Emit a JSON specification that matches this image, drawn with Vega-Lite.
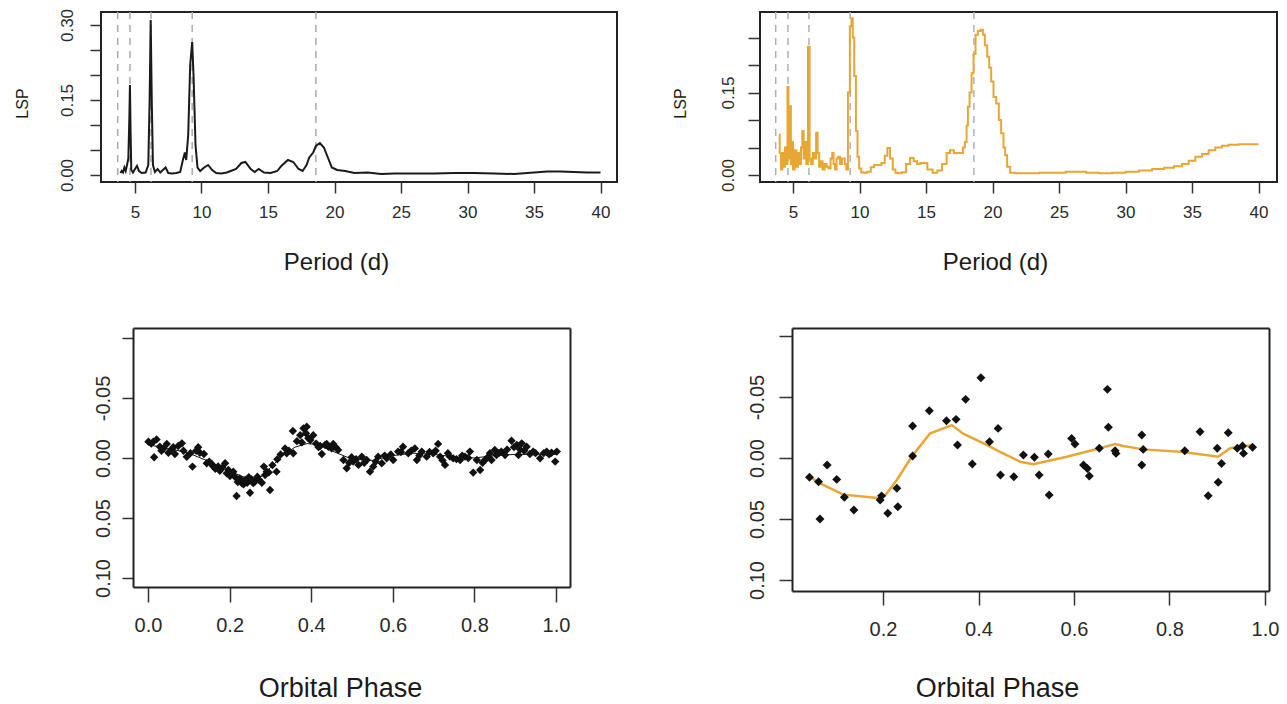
{
  "$schema": "https://vega.github.io/schema/vega-lite/v6.json",
  "background": "white",
  "padding": {"left": 13, "top": 7, "right": 5, "bottom": 5},
  "columns": 2,
  "bounds": "flush",
  "spacing": {"row": 146, "column": 143},
  "config": {
    "axis": {"labelFont": "Liberation Sans", "titleFont": "Liberation Sans", "labelColor": "#2a2a2a", "tickColor": "#333", "tickWidth": 1.5, "grid": false, "labelFlush": false, "labelOverlap": false, "titleFontWeight": "normal", "titleColor": "#1a1a1a", "domainColor": "#222", "domainWidth": 2},
    "view": {"stroke": "#222", "strokeWidth": 2}
  },
  "datasets": {
    "dash": [{"P": 3.7}, {"P": 4.62}, {"P": 6.2}, {"P": 9.3}, {"P": 18.6}],
    "tl": [
      {"P":3.9,"L":0.004},{"P":4.0,"L":0.008},{"P":4.1,"L":0.005},{"P":4.2,"L":0.015},{"P":4.3,"L":0.008},{"P":4.4,"L":0.02},{"P":4.5,"L":0.033},{"P":4.58,"L":0.12},{"P":4.62,"L":0.18},{"P":4.66,"L":0.1},{"P":4.72,"L":0.01},{"P":4.85,"L":0.005},{"P":5.0,"L":0.012},{"P":5.15,"L":0.018},{"P":5.3,"L":0.008},{"P":5.5,"L":0.004},{"P":5.8,"L":0.005},{"P":6.0,"L":0.02},{"P":6.1,"L":0.15},{"P":6.18,"L":0.31},{"P":6.26,"L":0.15},{"P":6.35,"L":0.02},{"P":6.5,"L":0.006},{"P":6.7,"L":0.012},{"P":6.9,"L":0.005},{"P":7.1,"L":0.01},{"P":7.3,"L":0.015},{"P":7.5,"L":0.004},{"P":7.8,"L":0.003},{"P":8.1,"L":0.004},{"P":8.4,"L":0.006},{"P":8.6,"L":0.03},{"P":8.75,"L":0.045},{"P":8.85,"L":0.03},{"P":9.0,"L":0.08},{"P":9.15,"L":0.22},{"P":9.3,"L":0.266},{"P":9.4,"L":0.2},{"P":9.55,"L":0.06},{"P":9.7,"L":0.015},{"P":9.9,"L":0.008},{"P":10.2,"L":0.015},{"P":10.5,"L":0.02},{"P":10.8,"L":0.01},{"P":11.1,"L":0.004},{"P":11.5,"L":0.003},{"P":11.9,"L":0.005},{"P":12.2,"L":0.008},{"P":12.6,"L":0.012},{"P":13.0,"L":0.024},{"P":13.3,"L":0.026},{"P":13.7,"L":0.012},{"P":14.0,"L":0.006},{"P":14.3,"L":0.012},{"P":14.7,"L":0.005},{"P":15.2,"L":0.004},{"P":15.7,"L":0.008},{"P":16.0,"L":0.018},{"P":16.5,"L":0.03},{"P":16.9,"L":0.026},{"P":17.3,"L":0.012},{"P":17.6,"L":0.008},{"P":17.9,"L":0.02},{"P":18.1,"L":0.035},{"P":18.4,"L":0.045},{"P":18.6,"L":0.058},{"P":18.9,"L":0.064},{"P":19.2,"L":0.055},{"P":19.5,"L":0.035},{"P":19.8,"L":0.015},{"P":20.2,"L":0.01},{"P":20.8,"L":0.008},{"P":21.5,"L":0.004},{"P":22.5,"L":0.005},{"P":23.5,"L":0.002},{"P":24.5,"L":0.003},{"P":26,"L":0.003},{"P":27.5,"L":0.003},{"P":29,"L":0.004},{"P":30.5,"L":0.004},{"P":32,"L":0.003},{"P":33.5,"L":0.002},{"P":35,"L":0.005},{"P":36,"L":0.007},{"P":37,"L":0.007},{"P":38,"L":0.006},{"P":39,"L":0.005},{"P":40,"L":0.005}
    ],
    "tr": [
      {"P":3.95,"L":0.073},{"P":4.05,"L":0.04},{"P":4.15,"L":0.01},{"P":4.25,"L":0.04},{"P":4.35,"L":0.015},{"P":4.45,"L":0.05},{"P":4.55,"L":0.02},{"P":4.62,"L":0.16},{"P":4.7,"L":0.03},{"P":4.8,"L":0.125},{"P":4.88,"L":0.02},{"P":4.95,"L":0.06},{"P":5.05,"L":0.01},{"P":5.2,"L":0.045},{"P":5.3,"L":0.015},{"P":5.45,"L":0.04},{"P":5.55,"L":0.02},{"P":5.65,"L":0.05},{"P":5.75,"L":0.08},{"P":5.85,"L":0.03},{"P":5.95,"L":0.06},{"P":6.05,"L":0.02},{"P":6.2,"L":0.233},{"P":6.3,"L":0.03},{"P":6.43,"L":0.02},{"P":6.55,"L":0.04},{"P":6.68,"L":0.03},{"P":6.8,"L":0.077},{"P":6.9,"L":0.04},{"P":7.03,"L":0.015},{"P":7.15,"L":0.025},{"P":7.3,"L":0.01},{"P":7.45,"L":0.02},{"P":7.6,"L":0.015},{"P":7.75,"L":0.012},{"P":7.9,"L":0.03},{"P":8.0,"L":0.04},{"P":8.1,"L":0.02},{"P":8.2,"L":0.01},{"P":8.35,"L":0.03},{"P":8.46,"L":0.033},{"P":8.6,"L":0.02},{"P":8.75,"L":0.03},{"P":8.83,"L":0.03},{"P":8.95,"L":0.02},{"P":9.06,"L":0.01},{"P":9.2,"L":0.15},{"P":9.35,"L":0.27},{"P":9.44,"L":0.285},{"P":9.55,"L":0.25},{"P":9.66,"L":0.18},{"P":9.8,"L":0.08},{"P":9.9,"L":0.033},{"P":10.05,"L":0.012},{"P":10.2,"L":0.005},{"P":10.45,"L":0.004},{"P":10.7,"L":0.006},{"P":11.0,"L":0.014},{"P":11.2,"L":0.018},{"P":11.5,"L":0.018},{"P":11.8,"L":0.022},{"P":12.0,"L":0.035},{"P":12.2,"L":0.049},{"P":12.4,"L":0.03},{"P":12.6,"L":0.01},{"P":12.8,"L":0.004},{"P":13.0,"L":0.003},{"P":13.35,"L":0.005},{"P":13.65,"L":0.02},{"P":13.95,"L":0.031},{"P":14.2,"L":0.025},{"P":14.45,"L":0.02},{"P":14.7,"L":0.022},{"P":14.9,"L":0.022},{"P":15.3,"L":0.01},{"P":15.7,"L":0.004},{"P":16.0,"L":0.008},{"P":16.4,"L":0.02},{"P":16.7,"L":0.04},{"P":16.9,"L":0.045},{"P":17.3,"L":0.04},{"P":17.7,"L":0.04},{"P":17.85,"L":0.05},{"P":18.0,"L":0.06},{"P":18.1,"L":0.09},{"P":18.2,"L":0.124},{"P":18.35,"L":0.15},{"P":18.5,"L":0.185},{"P":18.65,"L":0.22},{"P":18.8,"L":0.255},{"P":19.0,"L":0.262},{"P":19.2,"L":0.264},{"P":19.35,"L":0.255},{"P":19.5,"L":0.236},{"P":19.7,"L":0.215},{"P":19.8,"L":0.195},{"P":20.0,"L":0.17},{"P":20.15,"L":0.142},{"P":20.4,"L":0.13},{"P":20.55,"L":0.1},{"P":20.75,"L":0.076},{"P":20.9,"L":0.05},{"P":21.0,"L":0.036},{"P":21.2,"L":0.015},{"P":21.45,"L":0.004},{"P":22,"L":0.003},{"P":23,"L":0.003},{"P":24,"L":0.004},{"P":25,"L":0.004},{"P":26,"L":0.006},{"P":26.6,"L":0.006},{"P":27.5,"L":0.004},{"P":28.5,"L":0.003},{"P":29.5,"L":0.004},{"P":30.5,"L":0.006},{"P":31.5,"L":0.008},{"P":32.5,"L":0.011},{"P":33.3,"L":0.013},{"P":34.0,"L":0.016},{"P":34.5,"L":0.02},{"P":35.0,"L":0.026},{"P":35.5,"L":0.033},{"P":36.0,"L":0.038},{"P":36.5,"L":0.045},{"P":37.0,"L":0.05},{"P":37.5,"L":0.053},{"P":38.0,"L":0.055},{"P":39,"L":0.056},{"P":40,"L":0.056}
    ],
    "bl": [
      {"p":0.001,"m":-0.0136},{"p":0.013,"m":-0.0136},{"p":0.021,"m":-0.0155},{"p":0.015,"m":-0.0006},{"p":0.029,"m":-0.0094},{"p":0.038,"m":-0.008},{"p":0.046,"m":-0.0117},{"p":0.05,"m":-0.0044},{"p":0.058,"m":-0.0072},{"p":0.066,"m":-0.0033},{"p":0.074,"m":-0.01},{"p":0.083,"m":-0.0122},{"p":0.087,"m":-0.006},{"p":0.095,"m":-0.001},{"p":0.109,"m":0.0072},{"p":0.123,"m":-0.009},{"p":0.127,"m":-0.0044},{"p":0.137,"m":-0.0033},{"p":0.144,"m":0.0044},{"p":0.156,"m":0.005},{"p":0.16,"m":0.007},{"p":0.172,"m":0.007},{"p":0.176,"m":0.0106},{"p":0.189,"m":0.0044},{"p":0.193,"m":0.0128},{"p":0.201,"m":0.015},{"p":0.209,"m":0.0114},{"p":0.217,"m":0.0317},{"p":0.225,"m":0.017},{"p":0.23,"m":0.021},{"p":0.238,"m":0.0183},{"p":0.243,"m":0.0206},{"p":0.25,"m":0.029},{"p":0.254,"m":0.0178},{"p":0.262,"m":0.0197},{"p":0.268,"m":0.0156},{"p":0.279,"m":0.0206},{"p":0.284,"m":0.0072},{"p":0.287,"m":0.0142},{"p":0.291,"m":0.0114},{"p":0.299,"m":0.0267},{"p":0.315,"m":0.0114},{"p":0.317,"m":0.0011},{"p":0.336,"m":-0.008},{"p":0.34,"m":-0.0039},{"p":0.356,"m":-0.0039},{"p":0.355,"m":-0.0225},{"p":0.373,"m":-0.019},{"p":0.381,"m":-0.0247},{"p":0.387,"m":-0.0206},{"p":0.389,"m":-0.026},{"p":0.393,"m":-0.0164},{"p":0.405,"m":-0.019},{"p":0.426,"m":-0.0033},{"p":0.434,"m":-0.0108},{"p":0.442,"m":-0.0094},
      {"p":0.422,"m":-0.01},{"p":0.438,"m":-0.0117},{"p":0.454,"m":-0.0117},{"p":0.466,"m":-0.0067},{"p":0.479,"m":0.0017},{"p":0.487,"m":0.0086},{"p":0.499,"m":-0.0006},{"p":0.503,"m":0.003},{"p":0.516,"m":0.0058},{"p":0.524,"m":-0.0011},{"p":0.536,"m":0.0017},{"p":0.544,"m":0.0114},{"p":0.552,"m":0.0072},{"p":0.564,"m":-0.0011},{"p":0.573,"m":0.0044},{"p":0.585,"m":0.0003},{"p":0.601,"m":0.0017},{"p":0.613,"m":-0.0053},{"p":0.625,"m":-0.0094},{"p":0.638,"m":-0.0039},{"p":0.654,"m":-0.008},{"p":0.659,"m":0.0017},{"p":0.671,"m":-0.0053},{"p":0.683,"m":-0.0011},{"p":0.699,"m":-0.0039},{"p":0.711,"m":-0.0117},{"p":0.716,"m":-0.0011},{"p":0.728,"m":0.0058},{"p":0.74,"m":-0.0011},{"p":0.748,"m":0.0003},{"p":0.765,"m":0.0017},{"p":0.777,"m":-0.0011},{"p":0.789,"m":-0.0053},{"p":0.797,"m":0.0122},{"p":0.806,"m":0.0017},{"p":0.814,"m":0.01},{"p":0.826,"m":0.0017},{"p":0.834,"m":-0.0011},{"p":0.842,"m":0.0017},{"p":0.85,"m":-0.0067},{"p":0.854,"m":-0.0025},{"p":0.866,"m":-0.0053},{"p":0.875,"m":-0.0025},{"p":0.891,"m":-0.0144},{"p":0.904,"m":-0.0108},{"p":0.908,"m":-0.0025},{"p":0.916,"m":-0.0122},{"p":0.928,"m":-0.0094},{"p":0.936,"m":-0.0033},{"p":0.944,"m":-0.0053},{"p":0.961,"m":0.0003},{"p":0.977,"m":-0.0053},{"p":0.989,"m":-0.0044},{"p":0.998,"m":0.003},{"p":1.002,"m":-0.0053},
      {"p":0.008,"m":-0.012},{"p":0.033,"m":-0.006},{"p":0.062,"m":-0.009},{"p":0.104,"m":-0.004},{"p":0.118,"m":-0.006},{"p":0.15,"m":0.003},{"p":0.165,"m":0.009},{"p":0.182,"m":0.008},{"p":0.197,"m":0.01},{"p":0.205,"m":0.013},{"p":0.214,"m":0.016},{"p":0.22,"m":0.02},{"p":0.234,"m":0.022},{"p":0.247,"m":0.016},{"p":0.258,"m":0.021},{"p":0.272,"m":0.018},{"p":0.296,"m":0.012},{"p":0.305,"m":0.006},{"p":0.325,"m":-0.003},{"p":0.345,"m":-0.006},{"p":0.365,"m":-0.014},{"p":0.377,"m":-0.013},{"p":0.398,"m":-0.015},{"p":0.412,"m":-0.012},{"p":0.418,"m":-0.009},{"p":0.45,"m":-0.008},{"p":0.46,"m":-0.009},{"p":0.493,"m":0.004},{"p":0.51,"m":0.001},{"p":0.53,"m":0.004},{"p":0.558,"m":0.003},{"p":0.58,"m":-0.002},{"p":0.595,"m":-0.003},{"p":0.62,"m":-0.005},{"p":0.645,"m":-0.006},{"p":0.665,"m":-0.002},{"p":0.69,"m":-0.005},{"p":0.705,"m":-0.006},{"p":0.722,"m":0.002},{"p":0.735,"m":-0.004},{"p":0.756,"m":0.001},{"p":0.77,"m":-0.002},{"p":0.785,"m":0.0},{"p":0.82,"m":0.004},{"p":0.838,"m":-0.004},{"p":0.86,"m":-0.004},{"p":0.88,"m":-0.007},{"p":0.897,"m":-0.009},{"p":0.912,"m":-0.007},{"p":0.922,"m":-0.006},{"p":0.95,"m":-0.004},{"p":0.97,"m":-0.004},{"p":0.983,"m":-0.003}
    ],
    "blfit": [
      {"p":0.0,"m":-0.011},{"p":0.05,"m":-0.008},{"p":0.1,"m":-0.004},{"p":0.15,"m":0.003},{"p":0.2,"m":0.011},{"p":0.25,"m":0.018},{"p":0.28,"m":0.015},{"p":0.3,"m":0.008},{"p":0.33,"m":-0.002},{"p":0.36,"m":-0.009},{"p":0.39,"m":-0.012},{"p":0.42,"m":-0.011},{"p":0.45,"m":-0.006},{"p":0.5,"m":0.001},{"p":0.55,"m":0.002},{"p":0.6,"m":-0.002},{"p":0.65,"m":-0.004},{"p":0.7,"m":-0.003},{"p":0.75,"m":-0.001},{"p":0.8,"m":0.0},{"p":0.85,"m":-0.002},{"p":0.9,"m":-0.003},{"p":0.95,"m":-0.003},{"p":1.0,"m":-0.003}
    ],
    "br": [
      {"p":0.046,"m":0.0158},{"p":0.065,"m":0.0194},{"p":0.068,"m":0.05},{"p":0.083,"m":0.0057},{"p":0.103,"m":0.0175},{"p":0.119,"m":0.0322},{"p":0.139,"m":0.0426},{"p":0.194,"m":0.0344},{"p":0.197,"m":0.031},{"p":0.21,"m":0.0453},{"p":0.229,"m":0.0248},{"p":0.231,"m":0.04},{"p":0.262,"m":-0.0016},{"p":0.262,"m":-0.0262},{"p":0.297,"m":-0.0388},{"p":0.333,"m":-0.0306},{"p":0.353,"m":-0.0317},{"p":0.356,"m":-0.0107},{"p":0.373,"m":-0.0481},{"p":0.387,"m":0.0049},{"p":0.405,"m":-0.0658},{"p":0.423,"m":-0.0134},{"p":0.441,"m":-0.0243},{"p":0.446,"m":0.0139},{"p":0.474,"m":0.0153},{"p":0.494,"m":-0.0025},{"p":0.517,"m":-0.0006},{"p":0.527,"m":0.0139},{"p":0.546,"m":-0.0033},{"p":0.548,"m":0.0303},{"p":0.595,"m":-0.0161},{"p":0.602,"m":-0.0115},{"p":0.62,"m":0.0057},{"p":0.628,"m":0.0085},{"p":0.632,"m":0.0148},{"p":0.653,"m":-0.008},{"p":0.67,"m":-0.0563},{"p":0.672,"m":-0.0252},{"p":0.686,"m":-0.006},{"p":0.688,"m":-0.0038},{"p":0.742,"m":-0.0189},{"p":0.745,"m":-0.0071},{"p":0.742,"m":0.0057},{"p":0.832,"m":-0.006},{"p":0.864,"m":-0.0216},{"p":0.881,"m":0.0309},{"p":0.9,"m":-0.008},{"p":0.902,"m":0.0199},{"p":0.909,"m":0.0044},{"p":0.923,"m":-0.0207},{"p":0.942,"m":-0.008},{"p":0.953,"m":-0.0098},{"p":0.955,"m":-0.0038},{"p":0.974,"m":-0.0088}
    ],
    "brfit": [
      {"p":0.046,"m":0.0153},{"p":0.068,"m":0.0207},{"p":0.117,"m":0.03},{"p":0.194,"m":0.033},{"p":0.204,"m":0.031},{"p":0.229,"m":0.018},{"p":0.26,"m":-0.001},{"p":0.298,"m":-0.02},{"p":0.344,"m":-0.027},{"p":0.368,"m":-0.02},{"p":0.417,"m":-0.0107},{"p":0.445,"m":-0.005},{"p":0.487,"m":0.003},{"p":0.515,"m":0.005},{"p":0.585,"m":-0.001},{"p":0.654,"m":-0.008},{"p":0.686,"m":-0.0115},{"p":0.703,"m":-0.0098},{"p":0.745,"m":-0.0071},{"p":0.829,"m":-0.005},{"p":0.902,"m":-0.001},{"p":0.927,"m":-0.008},{"p":0.976,"m":-0.0107}
    ]
  },
  "concat": [
    {
      "width": 516, "height": 170,
      "view": {"stroke": "#222", "strokeWidth": 2},
      "layer": [
        {"data": {"name": "dash"}, "mark": {"type": "rule", "color": "#aaaaaa", "strokeDash": [7, 6], "strokeWidth": 1.5},
         "encoding": {"x": {"field": "P", "type": "quantitative"}}},
        {"data": {"name": "tl"}, "mark": {"type": "line", "color": "#1a1a1a", "strokeWidth": 2},
         "encoding": {
           "x": {"field": "P", "type": "quantitative", "scale": {"domain": [2.444, 41.24], "nice": false, "zero": false},
                 "axis": {"values": [5,10,15,20,25,30,35,40], "domain": false, "tickSize": 11, "labelFontSize": 17, "labelPadding": 11, "title": "Period (d)", "titleFontSize": 24, "titleX": 235, "titleY": 80, "titleAlign": "center", "titleBaseline": "middle"}},
           "y": {"field": "L", "type": "quantitative", "scale": {"domain": [-0.014, 0.326], "nice": false, "zero": false},
                 "axis": {"values": [0,0.05,0.1,0.15,0.2,0.25,0.3], "format": ".2f", "labelExpr": "(abs(datum.value) < 0.001 || abs(datum.value-0.15) < 0.001 || abs(datum.value-0.3) < 0.001) ? datum.label : ''", "domain": false, "tickSize": 11, "labelAngle": -90, "labelAlign": "center", "labelBaseline": "bottom", "labelPadding": 14, "labelFontSize": 17, "title": "LSP", "titleFontSize": 16, "titleX": -79, "titleY": 91, "titleAngle": -90, "titleAlign": "center", "titleBaseline": "middle"}}
         }}
      ]
    },
    {
      "width": 517, "height": 170,
      "view": {"stroke": "#222", "strokeWidth": 2},
      "layer": [
        {"data": {"name": "dash"}, "mark": {"type": "rule", "color": "#aab0bb", "strokeDash": [7, 6], "strokeWidth": 1.5},
         "encoding": {"x": {"field": "P", "type": "quantitative"}}},
        {"data": {"name": "tr"}, "mark": {"type": "line", "color": "#e8a735", "strokeWidth": 2, "interpolate": "step"},
         "encoding": {
           "x": {"field": "P", "type": "quantitative", "scale": {"domain": [2.519, 41.39], "nice": false, "zero": false},
                 "axis": {"values": [5,10,15,20,25,30,35,40], "domain": false, "tickSize": 11, "labelFontSize": 17, "labelPadding": 11, "title": "Period (d)", "titleFontSize": 24, "titleX": 235, "titleY": 80, "titleAlign": "center", "titleBaseline": "middle"}},
           "y": {"field": "L", "type": "quantitative", "scale": {"domain": [-0.0127, 0.2964], "nice": false, "zero": false},
                 "axis": {"values": [0,0.05,0.1,0.15,0.2,0.25], "format": ".2f", "labelExpr": "(abs(datum.value) < 0.001 || abs(datum.value-0.15) < 0.001) ? datum.label : ''", "domain": false, "tickSize": 12, "labelAngle": -90, "labelAlign": "center", "labelBaseline": "bottom", "labelPadding": 11, "labelFontSize": 17, "title": "LSP", "titleFontSize": 16, "titleX": -80, "titleY": 91, "titleAngle": -90, "titleAlign": "center", "titleBaseline": "middle"}}
         }}
      ]
    },
    {
      "width": 469, "height": 259,
      "view": {"stroke": null},
      "layer": [
        {"data": {"name": "bl"}, "mark": {"type": "point", "shape": "diamond", "filled": true, "color": "#111", "size": 70, "opacity": 1},
         "encoding": {
           "x": {"field": "p", "type": "quantitative", "scale": {"domain": [-0.0368, 1.0343], "range": [32, 469], "nice": false, "zero": false},
                 "axis": {"values": [0,0.2,0.4,0.6,0.8,1.0], "format": ".1f", "domain": true, "tickSize": 15, "labelFontSize": 20, "labelPadding": 13, "title": "Orbital Phase", "titleFontSize": 27, "titleX": 239, "titleY": 101, "titleAlign": "center", "titleBaseline": "middle"}},
           "y": {"field": "m", "type": "quantitative", "scale": {"domain": [-0.1083, 0.1075], "reverse": true, "nice": false, "zero": false},
                 "axis": {"offset": -32, "values": [-0.1,-0.05,0,0.05,0.1], "format": ".2f", "labelExpr": "datum.value < -0.09 ? '' : replace(datum.label, '\u2212', '-')", "domain": true, "tickSize": 11, "labelAngle": -90, "labelAlign": "center", "labelBaseline": "bottom", "labelPadding": 9, "labelFontSize": 20, "title": null}}
         }},
        {"data": {"name": "blfit"}, "mark": {"type": "line", "color": "#111", "strokeWidth": 1},
         "encoding": {
           "x": {"field": "p", "type": "quantitative", "axis": {"orient": "top", "labels": false, "ticks": false, "domain": true, "title": null}},
           "y": {"field": "m", "type": "quantitative", "axis": {"orient": "right", "labels": false, "ticks": false, "domain": true, "title": null}}
         }}
      ],
      "resolve": {"axis": {"x": "independent", "y": "independent"}}
    },
    {
      "width": 509, "height": 263,
      "view": {"stroke": null},
      "layer": [
        {"data": {"name": "brfit"}, "mark": {"type": "line", "color": "#e8a735", "strokeWidth": 2.5},
         "encoding": {
           "x": {"field": "p", "type": "quantitative", "scale": {"domain": [0.0094, 1.0084], "range": [32, 509], "nice": false, "zero": false},
                 "axis": {"values": [0.2,0.4,0.6,0.8,1.0], "format": ".1f", "domain": true, "tickSize": 14, "labelFontSize": 20, "labelPadding": 14, "title": "Orbital Phase", "titleFontSize": 27, "titleX": 237, "titleY": 97, "titleAlign": "center", "titleBaseline": "middle"}},
           "y": {"field": "m", "type": "quantitative", "scale": {"domain": [-0.1066, 0.109], "reverse": true, "nice": false, "zero": false},
                 "axis": {"offset": -32, "values": [-0.1,-0.05,0,0.05,0.1], "format": ".2f", "labelExpr": "datum.value < -0.09 ? '' : replace(datum.label, '\u2212', '-')", "domain": true, "tickSize": 13, "labelAngle": -90, "labelAlign": "center", "labelBaseline": "bottom", "labelPadding": 12, "labelFontSize": 20, "title": null}}
         }},
        {"data": {"name": "br"}, "mark": {"type": "point", "shape": "diamond", "filled": true, "color": "#111", "size": 80, "opacity": 1},
         "encoding": {
           "x": {"field": "p", "type": "quantitative", "axis": {"orient": "top", "labels": false, "ticks": false, "domain": true, "title": null}},
           "y": {"field": "m", "type": "quantitative", "axis": {"orient": "right", "labels": false, "ticks": false, "domain": true, "title": null}}
         }}
      ],
      "resolve": {"axis": {"x": "independent", "y": "independent"}}
    }
  ]
}
